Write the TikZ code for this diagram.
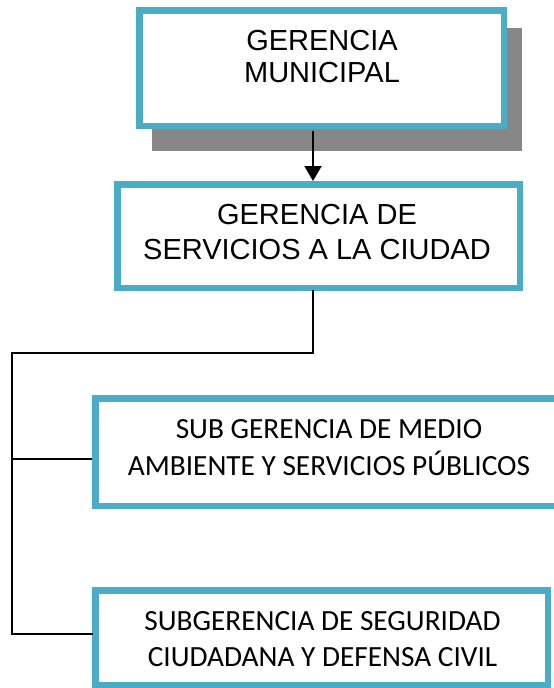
\documentclass[tikz,border=0pt]{standalone}
\usepackage{fontspec}
\setmainfont{Liberation Sans}
\newfontfamily\calib{Carlito}
\usetikzlibrary{arrows.meta}
\definecolor{teal5}{HTML}{4BACC6}
\definecolor{shadowgray}{HTML}{878787}
\begin{document}
\begin{tikzpicture}[x=1pt,y=-1pt,
  orgbox/.style={draw=teal5, line width=6.5pt, fill=white, inner sep=0pt, outer sep=3.25pt, rectangle},
  arialtxt/.style={align=center, inner sep=0pt, font=\fontsize{29}{#1}\selectfont},
  calibtxt/.style={align=center, inner sep=0pt, font=\calib\fontsize{29.3}{#1}\selectfont},
  conn/.style={draw=black, line width=1.5pt}]
\useasboundingbox (0,0) rectangle (554,688);
% shadow of the top box
\fill[shadowgray] (152,28) rectangle (522,151);
% boxes
\node[orgbox, minimum width=364.5pt, minimum height=115.5pt] (box1) at (321.5,68) {};
\node[orgbox, minimum width=402.5pt, minimum height=103.5pt] (box2) at (318.5,236) {};
\node[orgbox, minimum width=467.5pt, minimum height=107.5pt] (box3) at (329,452) {};
\node[orgbox, minimum width=452.5pt, minimum height=94.5pt] (box4) at (321.5,637.5) {};
% texts
\node[arialtxt=32] (t1) at (322,57) {GERENCIA\\MUNICIPAL};
\node[arialtxt=35] (t2) at (317,232.5) {GERENCIA DE\\SERVICIOS A LA CIUDAD};
\node[calibtxt=37] (t3) at (329,447.5) {SUB GERENCIA DE MEDIO\\AMBIENTE Y SERVICIOS PÚBLICOS};
\node[calibtxt=36] (t4) at (322.5,639) {SUBGERENCIA DE SEGURIDAD\\CIUDADANA Y DEFENSA CIVIL};
% connector coordinates
\coordinate (elbow) at (313,353);
\coordinate (trunk) at (12,353);
\coordinate (j3) at (12,459);
\coordinate (j4) at (12,634);
% arrow
\draw[line width=2pt, -{Triangle[width=17pt,length=15pt]}] (box1.south -| elbow) ++(0,2) -- (box2.north -| elbow);
% tree connectors
\draw[conn, line cap=rect] (box2.south -| elbow) -- (elbow) -- (trunk) -- (j4) -- (j4 -| box4.west);
\draw[conn] (j3) -- (j3 -| box3.west);
\end{tikzpicture}
\end{document}
